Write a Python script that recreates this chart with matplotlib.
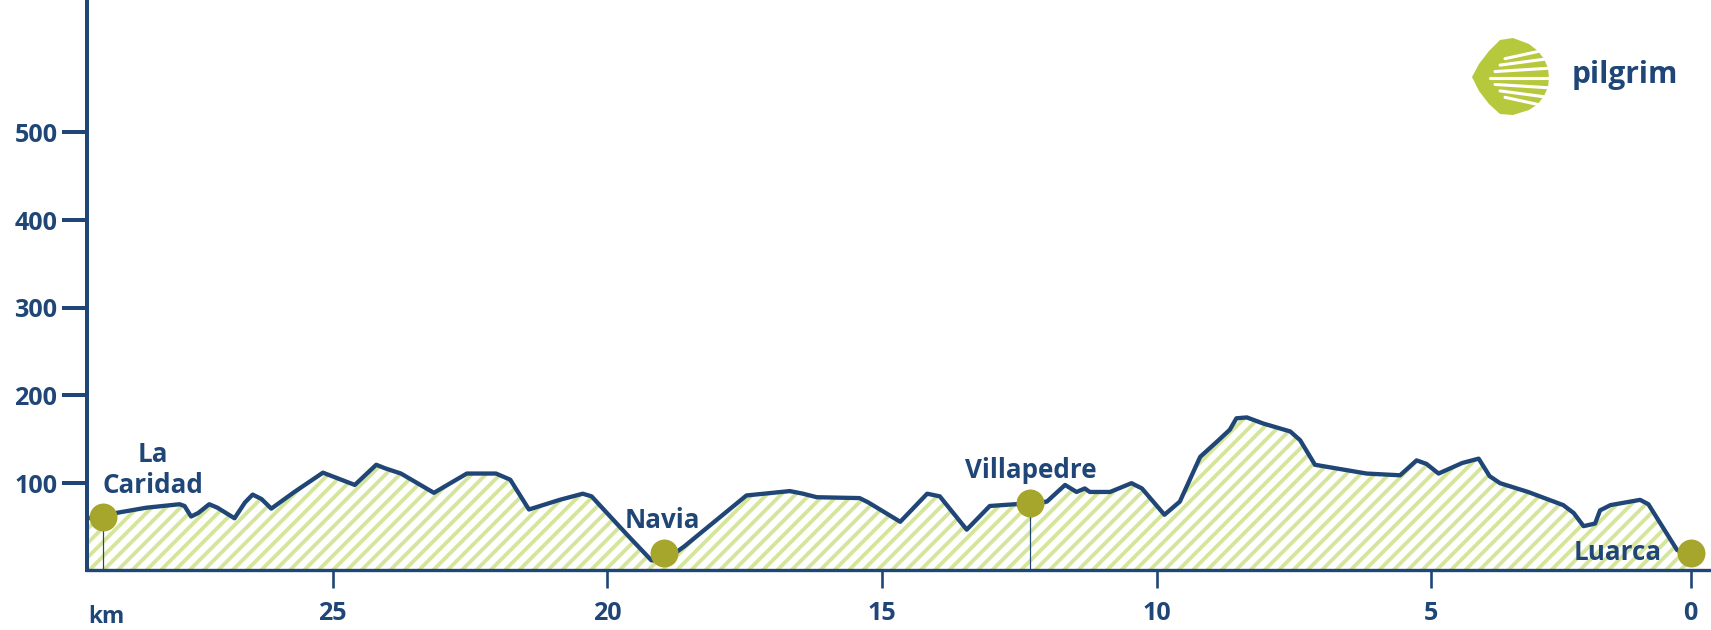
import matplotlib
matplotlib.use("Agg")
import matplotlib.pyplot as plt
from matplotlib.patches import Polygon
from matplotlib.lines import Line2D

# perfil de la etapa: km que faltan hasta Luarca / altitud (m)
dist_km = [29.47, 29.19, 28.95, 28.4, 27.79, 27.70, 27.58, 27.45, 27.25, 27.1, 26.79, 26.6,
           26.46, 26.3, 26.12, 25.7, 25.18, 24.6, 24.21, 24.05, 23.76, 23.16, 22.56, 22.03,
           21.77, 21.43, 20.87, 20.45, 20.29, 19.64, 19.2, 18.95, 18.6, 17.47, 16.68, 16.44,
           16.19, 15.41, 15.25, 14.67, 14.18, 13.95, 13.46, 13.04, 12.58, 12.30, 12.0, 11.67,
           11.46, 11.31, 11.22, 10.85, 10.46, 10.27, 9.86, 9.58, 9.21, 8.91, 8.67, 8.55,
           8.36, 8.06, 7.57, 7.39, 7.12, 6.18, 5.57, 5.27, 5.09, 4.87, 4.44, 4.14,
           3.94, 3.75, 3.24, 2.60, 2.41, 2.23, 2.02, 1.93, 1.74, 1.20, 1.05, 0.53, 0.28]
alt_m = [60, 62, 66, 72, 76, 74, 62, 66, 76, 72, 60, 78,
         87, 82, 71, 90, 112, 98, 121, 117, 111, 89, 111, 111,
         104, 70, 81, 88, 85, 41, 12, 12, 28, 86, 91, 88,
         84, 83, 78, 56, 88, 85, 47, 74, 76, 77, 79, 98,
         90, 94, 90, 90, 100, 94, 64, 79, 130, 147, 161, 174,
         175, 168, 159, 149, 121, 111, 109, 126, 122, 111, 123, 128,
         108, 100, 90, 75, 66, 51, 54, 69, 75, 81, 76, 24, 15]

places = ["La Caridad", "Navia", "Villapedre", "Luarca"]
place_km = [29.19, 18.97, 12.30, 0.28]
place_m = [62, 20, 77, 20]
stem_km = [29.19, 12.30]
stem_m = [62, 77]

km_ticks = [25, 20, 15, 10, 5, 0.28]
km_labels = ["25", "20", "15", "10", "5", "0"]
alt_ticks = [100, 200, 300, 400, 500]

NAVY = "#1f4677"
OLIVE = "#a6a52c"
HATCH = "#d5e59b"
SHELL = "#b6c83b"

W, H, DPI = 1711, 630, 86
plt.rcParams['font.family'] = ['Open Sans', 'DejaVu Sans']
plt.rcParams['font.weight'] = 'bold'
plt.rcParams['hatch.color'] = HATCH
plt.rcParams['hatch.linewidth'] = 3.2

fig = plt.figure(figsize=(W / DPI, H / DPI), dpi=DPI)
fig.patch.set_facecolor('white')
ax = fig.add_axes([87.3 / W, 60 / H, 1 - 87.3 / W, 570 / H])

# relleno rayado + perfil
ax.fill_between(dist_km, alt_m, 0, facecolor='white', edgecolor=HATCH, hatch='//', linewidth=0, zorder=1)
ax.plot(dist_km, alt_m, color=NAVY, lw=3.6, solid_joinstyle='round', solid_capstyle='round', zorder=3)
ax.vlines(stem_km, 0, stem_m, color=NAVY, lw=1.0, zorder=2)
ax.plot(place_km, place_m, 'o', ms=23.4, color=OLIVE, mec='none', zorder=5)

# nombres
ax.text(28.27, 124.5, "La", ha='center', va='baseline', fontsize=21.8, color=NAVY)
ax.text(28.27, 88.5, "Caridad", ha='center', va='baseline', fontsize=21.8, color=NAVY)
ax.text(19.0, 48.6, places[1], ha='center', va='baseline', fontsize=21.8, color=NAVY)
ax.text(12.30, 105.6, places[2], ha='center', va='baseline', fontsize=21.8, color=NAVY)
ax.text(1.60, 12.4, places[3], ha='center', va='baseline', fontsize=21.8, color=NAVY, zorder=6)

ax.set_xlim(29.47, -0.09)
ax.set_ylim(1, 651)
ax.set_xticks(km_ticks)
ax.set_xticklabels(km_labels)
ax.set_yticks(alt_ticks)
ax.set_facecolor('none')
for s in ['top', 'right']:
    ax.spines[s].set_visible(False)
ax.spines['left'].set_linewidth(3.35)
ax.spines['bottom'].set_linewidth(2.8)
for s in ['left', 'bottom']:
    ax.spines[s].set_color(NAVY)
    ax.spines[s].set_capstyle('projecting')
ax.tick_params(axis='y', length=21, width=3.35, color=NAVY, pad=4, labelsize=21, labelcolor=NAVY)
ax.tick_params(axis='x', length=15, width=2.2, color=NAVY, pad=11, labelsize=21, labelcolor=NAVY)

fig.text(88 / W, (H - 622.7) / H, "km", ha='left', va='baseline', fontsize=19, color=NAVY)

# logo pilgrim
def fpos(x, y):
    return (x / W, 1 - y / H)

shell = [(1472, 77), (1479, 64), (1489, 51), (1500, 40), (1513, 38), (1529, 44), (1538, 51),
         (1544, 59), (1548, 68), (1549, 78), (1548, 87), (1544, 96), (1538, 104), (1529, 110),
         (1513, 115), (1500, 114), (1489, 104), (1479, 91)]
fig.add_artist(Polygon([fpos(*p) for p in shell], closed=True, transform=fig.transFigure,
                       facecolor=SHELL, edgecolor='none'))
for k in range(-3, 4):
    sx = 1490 + abs(k) * 5
    sy = 78 + k * 9.2 * 0.7
    ey = 78 + k * 9.2 * 1.15
    x0, y0 = fpos(sx, sy)
    x1, y1 = fpos(1562, ey)
    fig.add_artist(Line2D([x0, x1], [y0, y1], transform=fig.transFigure, color='white',
                          lw=2.6, solid_capstyle='round'))
fig.text(1572 / W, 1 - 83 / H, "pilgrim", ha='left', va='baseline', fontsize=25, color=NAVY)

fig.savefig("out.png", dpi=DPI)
